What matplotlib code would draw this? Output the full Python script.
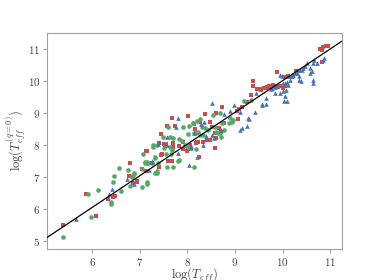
import numpy as np
import matplotlib
matplotlib.use('Agg')
import matplotlib.pyplot as plt

plt.rcParams['font.family'] = 'serif'
plt.rcParams['font.serif'] = ['cmr10']
plt.rcParams['mathtext.fontset'] = 'cm'
plt.rcParams['axes.formatter.use_mathtext'] = True

# red squares
red_x = [5.39, 6.08, 5.86, 6.34, 6.44, 6.48, 6.80, 6.78, 6.86, 6.93, 7.05, 7.13, 7.13, 7.16,
         7.25, 7.40, 7.45, 7.60, 7.68, 7.91, 7.82, 7.50, 7.54, 7.70, 7.99, 8.05, 7.68, 8.02,
         7.58, 7.74, 8.14, 7.45, 7.70, 7.70, 7.41, 7.53, 7.91, 8.06, 8.20, 8.02, 7.47, 6.94,
         8.25, 9.38, 9.38, 9.47, 9.55, 9.68, 9.72, 9.34, 9.26, 9.15, 9.09, 9.05, 8.73, 8.60,
         8.37, 8.16, 8.27, 8.48, 8.52, 8.67, 8.77, 8.58, 8.71, 8.60, 8.48, 8.42, 8.33, 8.23,
         8.18, 8.58, 9.07, 10.79, 10.85, 10.92, 10.96, 10.83, 10.83, 10.22, 10.20, 10.29, 9.89,
         9.80, 9.85, 9.90, 9.95, 10.00, 10.05, 9.55, 9.60, 9.66, 9.70, 10.05, 10.12]
red_y = [5.50, 5.78, 6.47, 6.31, 6.37, 6.40, 7.44, 7.03, 6.81, 6.84, 7.25, 7.19, 7.81, 7.81,
         7.44, 7.31, 7.69, 7.50, 7.50, 7.87, 7.97, 8.03, 8.03, 8.03, 7.81, 8.00, 8.84, 8.91,
         8.60, 8.60, 8.66, 8.34, 8.06, 7.94, 8.06, 8.00, 8.09, 8.00, 8.09, 7.87, 7.72, 6.88,
         7.62, 10.00, 9.84, 9.75, 9.72, 9.81, 9.84, 9.56, 9.34, 9.19, 9.12, 9.06, 9.19, 9.00,
         8.97, 8.50, 8.72, 8.72, 8.56, 8.53, 8.69, 8.38, 8.41, 8.22, 8.16, 8.16, 8.09, 8.09,
         8.06, 7.91, 8.81, 11.00, 11.06, 11.09, 11.09, 10.97, 10.59, 10.16, 10.12, 10.31, 10.28,
         9.88, 9.84, 9.80, 9.84, 9.78, 9.84, 9.75, 9.78, 9.78, 9.81, 10.12, 10.16]

# green circles
green_x = [5.38, 5.98, 5.90, 6.13, 6.40, 6.40, 6.61, 6.57, 6.46, 6.43, 6.76, 6.84, 6.86, 6.88,
           6.80, 7.05, 7.16, 7.11, 7.28, 7.07, 7.32, 7.14, 7.18, 7.39, 7.35, 7.37, 7.32, 7.05,
           7.55, 7.66, 7.70, 7.57, 7.83, 7.68, 7.50, 8.02, 7.60, 7.91, 8.04, 8.12, 8.02, 7.49,
           7.64, 7.70, 7.83, 7.89, 7.64, 7.28, 7.35, 7.95, 7.32, 7.11, 7.16, 7.26, 7.80, 6.87,
           7.16, 8.14, 8.18, 8.27, 9.34, 9.19, 8.54, 8.69, 8.12, 8.20, 8.31, 8.37, 8.44, 8.58,
           8.73, 8.60, 8.65, 8.69, 8.77, 8.88, 8.94, 8.90, 8.96, 8.71, 8.18, 8.23, 8.14, 8.27, 8.33]
green_y = [5.12, 5.75, 6.47, 6.60, 6.22, 6.16, 6.56, 7.28, 7.03, 6.84, 7.22, 7.00, 7.06, 7.10,
           6.72, 6.69, 6.78, 7.44, 7.94, 7.72, 7.62, 7.44, 7.44, 7.44, 7.20, 7.12, 7.12, 7.25,
           7.72, 7.72, 7.31, 7.31, 7.53, 7.84, 7.90, 7.94, 8.56, 8.56, 8.60, 8.69, 8.34, 8.25,
           8.25, 8.22, 8.19, 8.12, 7.94, 8.00, 8.00, 8.00, 7.59, 7.47, 7.47, 7.44, 7.50, 7.12,
           6.84, 7.31, 7.87, 8.81, 9.41, 9.38, 8.94, 9.00, 8.69, 8.75, 8.56, 8.53, 8.47, 8.56,
           8.69, 8.41, 8.38, 8.38, 8.47, 8.69, 8.72, 8.84, 8.78, 8.25, 8.38, 8.41, 8.38, 8.31, 8.31]

# blue triangles
blue_x = [5.66, 6.36, 6.42, 6.74, 6.88, 7.26, 8.04, 7.57, 7.39, 7.80, 7.75, 8.14, 7.58, 7.41,
          8.08, 7.81, 7.26, 7.20, 9.45, 9.57, 8.98, 9.11, 8.90, 8.77, 9.42, 9.30, 8.52, 8.29,
          8.35, 8.71, 8.52, 8.56, 8.39, 8.33, 9.11, 9.15, 9.26, 8.20, 8.08, 10.85, 10.87, 10.73,
          10.66, 10.64, 10.58, 10.62, 10.58, 10.64, 10.64, 10.52, 10.47, 10.43, 10.41, 10.37,
          10.30, 10.30, 10.35, 10.35, 10.39, 10.26, 10.22, 10.20, 10.14, 10.12, 10.16, 10.10,
          10.06, 10.12, 9.95, 9.99, 10.01, 9.95, 10.01, 10.08, 10.06, 10.03, 10.10, 9.84, 9.66,
          9.57, 9.78, 9.84, 9.89, 9.28, 9.66, 9.76]
blue_y = [5.69, 6.47, 6.62, 6.94, 6.78, 7.47, 7.37, 8.00, 8.03, 8.84, 8.56, 8.38, 8.25, 8.09,
          7.91, 7.75, 7.50, 7.22, 9.62, 9.28, 9.25, 9.03, 9.06, 8.97, 9.03, 8.81, 9.31, 8.66,
          8.72, 8.47, 8.31, 8.22, 8.28, 8.00, 8.47, 8.53, 8.60, 7.62, 7.97, 10.66, 10.72, 10.56,
          10.66, 10.56, 10.41, 10.31, 10.25, 10.03, 9.94, 10.56, 10.47, 10.41, 10.34, 10.34,
          10.34, 10.25, 10.16, 10.03, 10.00, 10.25, 10.19, 10.16, 10.16, 10.16, 10.03, 9.97,
          9.94, 9.88, 10.19, 10.16, 9.94, 9.62, 9.69, 9.72, 9.53, 9.38, 9.38, 9.62, 9.28,
          9.25, 9.78, 9.81, 9.84, 8.84, 9.47, 9.75]

# fitted relation
slope = 0.99
intercept = 0.11

fig = plt.figure(figsize=(3.8, 2.8), dpi=100)
ax = fig.add_axes([0.124, 0.111, 0.776, 0.771])

ax.scatter(red_x, red_y, marker='s', s=11, color='#C44E52', linewidths=0, zorder=2)
ax.scatter(green_x, green_y, marker='o', s=11, color='#55A868', linewidths=0, zorder=2)
ax.scatter(blue_x, blue_y, marker='^', s=11, color='#4C72B0', linewidths=0, zorder=2)

xl = np.array([5.05, 11.25])
ax.plot(xl, slope*xl + intercept, color='k', lw=0.9, zorder=3)

ax.set_xlim(5.05, 11.25)
ax.set_ylim(4.75, 11.5)
ax.set_xticks([6, 7, 8, 9, 10, 11])
ax.set_yticks([5, 6, 7, 8, 9, 10, 11])

for s in ax.spines.values():
    s.set_color('#a0a0a0')
    s.set_linewidth(0.8)
ax.tick_params(colors='#a0a0a0', labelcolor='#444444', labelsize=8, length=3, width=0.8, pad=2)

ax.set_xlabel(r'log($T_{eff}$)', fontsize=9, color='#444444', labelpad=-1.5)
ax.set_ylabel(r'log($T_{eff}^{(q=0)}$)', fontsize=9, color='#444444', labelpad=0)

fig.savefig('out.png', dpi=100)
